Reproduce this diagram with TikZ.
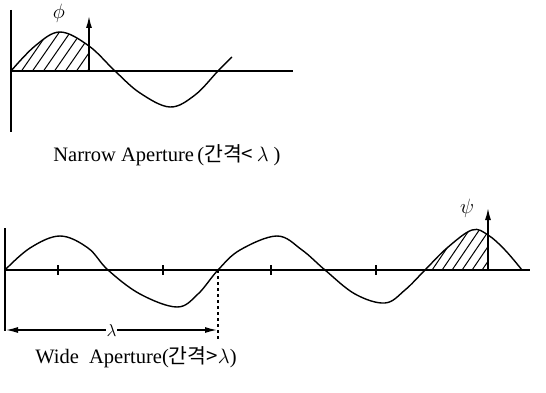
\documentclass[tikz,border=0pt]{standalone}
\usepackage{fontspec}
\setmainfont{Liberation Serif}
\newfontfamily\krfont{Noto Sans CJK KR}
\usetikzlibrary{arrows.meta, positioning}

\begin{document}
\begin{tikzpicture}[
        % pixel-like units, y grows downward
        x=1pt, y=-1pt,
        % axis lines
        axis/.style={line width=1.6pt},
        % wave curve
        wave/.style={line width=1.4pt, smooth, tension=0.6},
        % hatching strokes
        hatch/.style={line width=1pt},
        % field arrow
        arrow/.style={-{Latex[length=12pt, width=6pt]}, line width=1.5pt},
        % caption text
        caption/.style={font=\fontsize{20.5}{24}\selectfont, inner sep=0pt},
        % greek label
        greek/.style={font=\fontsize{20}{24}\selectfont, inner sep=0pt}
    ]
    \useasboundingbox (0,0) rectangle (546,393);

    % 1. Narrow aperture
    \coordinate (n_top) at (11,10);
    \coordinate (n_bot) at (11,132);
    \coordinate (n_o) at (11,71);
    \coordinate (n_end) at (293,71);
    \draw[axis] (n_top) -- (n_bot);
    \draw[axis] (n_o) -- (n_end);

    \draw[wave] plot coordinates {(11,71) (35,46) (60,32) (89,46) (115,71)
        (140,93) (170,107) (195,95) (218,71) (232,57)};

    \begin{scope}
        \clip plot[smooth, tension=0.6] coordinates {(11,71) (35,46) (60,32) (89,46)}
            -- (89,71) -- cycle;
        \foreach \i in {0,...,9}
            \draw[hatch] (\i*11-4,76) -- ++(36,-52);
    \end{scope}

    \coordinate (n_foot) at (89,71);
    \coordinate (n_tip) at (89,16);
    \draw[arrow] (n_foot) -- (n_tip);
    \node[greek] (phi) at (59,13) {$\phi$};

    \node[caption] (n_cap) at (167,155) {Narrow Aperture\,({\krfont 간격<}\,$\lambda$\ )};

    % 2. Wide aperture
    \coordinate (w_top) at (5,228);
    \coordinate (w_bot) at (5,331);
    \coordinate (w_o) at (5,270);
    \coordinate (w_end) at (530,270);
    \draw[axis] (w_top) -- (w_bot);
    \draw[axis] (w_o) -- (w_end);
    \foreach \t in {58,163,271,376}
        \draw[axis] (\t,265) -- (\t,275);

    \draw[wave] plot coordinates {(5,270) (30,248) (60,236) (88,248) (108,270)
        (140,294) (177,307) (198,294) (218,270) (240,250) (277,236) (302,250)
        (325,270) (355,294) (385,303) (405,290) (425,270) (447,248) (472,230)
        (488,235) (505,250) (522,270)};

    \begin{scope}
        \clip plot[smooth, tension=0.6] coordinates {(425,270) (447,248) (472,230) (488,235)}
            -- (488,270) -- cycle;
        \foreach \i in {0,...,8}
            \draw[hatch] (\i*10+418,276) -- ++(34,-50);
    \end{scope}

    \coordinate (w_foot) at (488,270);
    \coordinate (w_tip) at (488,208);
    \draw[arrow] (w_foot) -- (w_tip);
    \node[greek] (psi) at (467,208) {$\psi$};

    % wavelength span
    \coordinate (lam_r) at (218,270);
    \coordinate (lam_rb) at (218,340);
    \draw[line width=1.3pt, dashed] (lam_r) -- (lam_rb);
    \coordinate (lam_a) at (6,330);
    \coordinate (lam_b) at (217,330);
    \draw[{Latex[length=12pt, width=6pt]}-{Latex[length=12pt, width=6pt]}, line width=1.3pt]
        (lam_a) -- node[fill=white, inner sep=1pt, font=\fontsize{17}{20}\selectfont] (lam) {$\lambda$} (lam_b);

    \node[caption] (w_cap) at (136,357) {Wide\ \ Aperture({\krfont 간격>}$\lambda$)};

\end{tikzpicture}
\end{document}
